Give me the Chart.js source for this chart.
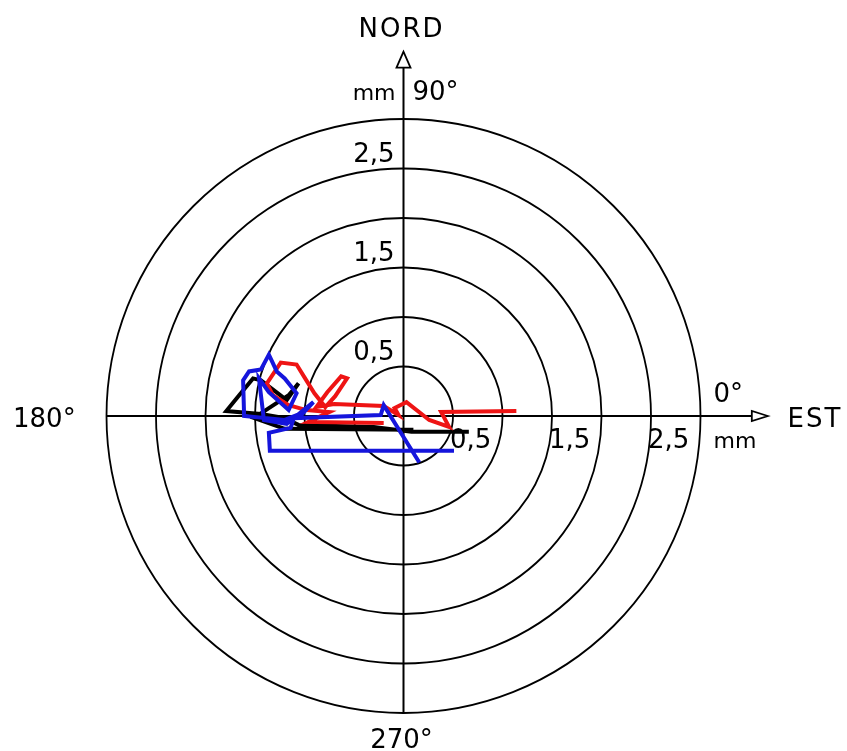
<!DOCTYPE html>
<html>
<head>
<meta charset="utf-8">
<script src="https://cdn.jsdelivr.net/npm/chart.js@4.4.1/dist/chart.umd.min.js"></script>
<style>
  body { margin: 0; background: #fff; }
  #wrap { width: 847px; height: 751px; }
</style>
</head>
<body>
<div id="wrap"><canvas id="polarChart" width="847" height="751"></canvas></div>
<script>
// Cercles de la grille (mm) et étiquettes des cercles
const ringValues = [0.5, 1, 1.5, 2, 2.5, 3];
const ringLabelValues = [0.5, 1.5, 2.5];
const ringLabels = ['0,5', '1,5', '2,5'];
const axisTip = 3.68; // bout des flèches NORD / EST

// Traces en mm (x = EST, y = NORD)
const blackX = [0.66, 0.08, -0.30, -1.06, -1.21, -1.44, -1.79, -1.66, -1.52, -1.44, -1.18, -1.06, -1.16, -1.36, -1.51, -1.20, 0.10];
const blackY = [-0.16, -0.16, -0.11, -0.09, -0.02, 0.02, 0.05, 0.21, 0.38, 0.36, 0.16, 0.33, 0.21, 0.08, -0.02, -0.13, -0.14];

const redX = [1.14, 0.38, 0.46, 0.26, 0.03, -0.09, -0.05, -0.20, -0.70, -0.88, -0.77, -0.63, -0.57, -0.69, -0.79, -0.90, -1.00, -1.08, -1.24, -1.38, -1.32, -1.16, -0.98, -0.75, -0.96, -0.20];
const redY = [0.05, 0.04, -0.11, -0.04, 0.14, 0.08, 0.01, 0.10, 0.12, 0.09, 0.24, 0.40, 0.38, 0.20, 0.09, 0.23, 0.39, 0.52, 0.54, 0.33, 0.21, 0.11, 0.06, 0.04, -0.06, -0.07];

const blueX = [0.51, -1.35, -1.36, -1.14, -1.10, -1.20, -1.61, -1.62, -1.56, -1.44, -1.36, -1.28, -1.20, -1.08, -1.16, -1.36, -1.46, -1.41, -1.18, -0.91, -1.06, -0.23, -0.20, 0.16];
const blueY = [-0.35, -0.35, -0.17, -0.12, 0.00, -0.04, 0.00, 0.36, 0.45, 0.47, 0.62, 0.45, 0.38, 0.23, 0.06, 0.24, 0.38, -0.04, -0.08, 0.14, -0.02, 0.01, 0.11, -0.47];

function toPoints(xs, ys) {
    return xs.map((v, i) => ({ x: v, y: ys[i] }));
}

const FONT = '26px "DejaVu Sans"';

function drawText(ctx, text, x, y, align, font, spacing) {
    ctx.font = font || FONT;
    ctx.textAlign = align;
    ctx.textBaseline = 'alphabetic';
    ctx.letterSpacing = spacing || '0px';
    ctx.fillText(text, x, y);
}

// Grille polaire, axes, flèches et textes
const polarGrid = {
    id: 'polarGrid',
    beforeDatasetsDraw(chart) {
        const { ctx, scales: { x, y } } = chart;
        const cx = x.getPixelForValue(0);
        const cy = y.getPixelForValue(0);
        const outer = ringValues[ringValues.length - 1];
        ctx.save();
        ctx.strokeStyle = '#000';
        ctx.lineWidth = 1.8;
        ringValues.forEach(r => {
            const rad = x.getPixelForValue(r) - cx;
            ctx.beginPath();
            ctx.arc(cx, cy, rad, 0, Math.PI * 2);
            ctx.stroke();
        });

        // axes
        const tipX = x.getPixelForValue(axisTip);
        const tipY = y.getPixelForValue(axisTip);
        ctx.lineWidth = 2;
        ctx.beginPath();
        ctx.moveTo(x.getPixelForValue(-outer), cy);
        ctx.lineTo(tipX - 14, cy);
        ctx.moveTo(cx, y.getPixelForValue(-outer));
        ctx.lineTo(cx, tipY + 14);
        ctx.stroke();

        // flèches creuses
        ctx.fillStyle = '#fff';
        ctx.lineWidth = 1.8;
        ctx.beginPath();
        ctx.moveTo(tipX, cy);
        ctx.lineTo(tipX - 16, cy - 5);
        ctx.lineTo(tipX - 16, cy + 5);
        ctx.closePath();
        ctx.fill();
        ctx.stroke();
        ctx.beginPath();
        ctx.moveTo(cx, tipY);
        ctx.lineTo(cx - 7, tipY + 16);
        ctx.lineTo(cx + 7, tipY + 16);
        ctx.closePath();
        ctx.fill();
        ctx.stroke();

        // étiquettes des cercles
        ctx.fillStyle = '#000';
        ringLabelValues.forEach((r, i) => {
            const py = y.getPixelForValue(r);
            drawText(ctx, ringLabels[i], cx - 9, py - 7, 'right');
            const px = x.getPixelForValue(r);
            drawText(ctx, ringLabels[i], px - 3, cy + 32, 'left');
        });

        // textes des directions
        drawText(ctx, 'NORD', cx - 2, 37, 'center', FONT, '2px');
        drawText(ctx, 'mm', cx - 8, 100, 'right', '22px "DejaVu Sans"');
        drawText(ctx, '90°', cx + 9, 100, 'left');
        drawText(ctx, '0°', cx + 310, cy - 14, 'left');
        drawText(ctx, 'EST', cx + 384, cy + 11, 'left', FONT, '2px');
        drawText(ctx, 'mm', cx + 310, cy + 32, 'left', '22px "DejaVu Sans"');
        drawText(ctx, '180°', 13, cy + 11, 'left');
        drawText(ctx, '270°', cx - 2, 748, 'center');
        ctx.restore();
    }
};

// Centre à (403.5, 416) px, 99 px par mm
const PX_PER_MM = 99;
const CENTER_X = 403.5;
const CENTER_Y = 416;

const ctx = document.getElementById('polarChart').getContext('2d');
new Chart(ctx, {
    type: 'scatter',
    data: {
        datasets: [
            {
                label: 'bleu',
                data: toPoints(blueX, blueY),
                showLine: true,
                borderColor: '#1515dc',
                borderWidth: 4,
                pointRadius: 0,
                tension: 0
            },
            {
                label: 'rouge',
                data: toPoints(redX, redY),
                showLine: true,
                borderColor: '#ee1414',
                borderWidth: 4,
                pointRadius: 0,
                tension: 0
            },
            {
                label: 'noir',
                data: toPoints(blackX, blackY),
                showLine: true,
                borderColor: '#000',
                borderWidth: 4,
                pointRadius: 0,
                tension: 0
            }
        ]
    },
    options: {
        responsive: false,
        animation: false,
        devicePixelRatio: 1,
        layout: { padding: 0 },
        plugins: {
            legend: { display: false },
            tooltip: { enabled: false }
        },
        scales: {
            x: {
                type: 'linear',
                display: false,
                min: -CENTER_X / PX_PER_MM,
                max: (847 - CENTER_X) / PX_PER_MM
            },
            y: {
                type: 'linear',
                display: false,
                min: (CENTER_Y - 751) / PX_PER_MM,
                max: CENTER_Y / PX_PER_MM
            }
        }
    },
    plugins: [polarGrid]
});
</script>
</body>
</html>
